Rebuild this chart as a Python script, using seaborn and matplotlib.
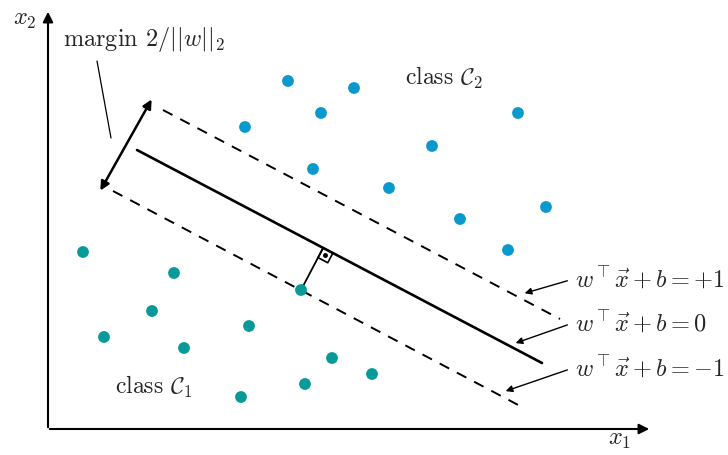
import numpy as np
import pandas as pd
import matplotlib
matplotlib.use("Agg")
import matplotlib.pyplot as plt
import seaborn as sns

# dados (coordenadas em pixels da figura, y para baixo)
c2_x = [288, 354, 321, 245, 518, 432, 313, 389, 546, 460, 508]
c2_y = [82, 89, 114, 128, 114, 147, 170, 189, 208, 220, 251]
c1_x = [83, 174, 152, 104, 249, 184, 301, 332, 305, 372, 241]
c1_y = [253, 274, 312, 338, 327, 349, 291, 359, 385, 375, 398]

# retas: hiperplano e margens
linha_0 = [(137, 151), (542, 364)]
linha_p1 = [(163, 111), (560, 320)]
linha_m1 = [(113, 192), (522, 408)]

rotulos = [r'$w^\top \vec{x} + b = +1$', r'$w^\top \vec{x} + b = 0$', r'$w^\top \vec{x} + b = -1$']
rotulo_xy = [(575, 279), (575, 323), (575, 368)]
seta_alvo = [(522, 295), (513, 345), (503, 393)]

df = pd.DataFrame({
    'x': c2_x + c1_x,
    'y': c2_y + c1_y,
    'classe': ['C2'] * len(c2_x) + ['C1'] * len(c1_x),
})

sns.set_style('white')
plt.rcParams['mathtext.fontset'] = 'cm'
plt.rcParams['font.family'] = ['cmr10', 'DejaVu Serif']
plt.rcParams['axes.unicode_minus'] = False

fig = plt.figure(figsize=(7.28, 4.56), dpi=100)
ax = fig.add_axes([0, 0, 1, 1])
ax.set_xlim(0, 728)
ax.set_ylim(456, 0)
ax.axis('off')

sns.scatterplot(data=df, x='x', y='y', hue='classe',
                palette={'C2': '#0a99cc', 'C1': '#079a98'},
                s=72, edgecolor='none', legend=False, ax=ax, zorder=3)

# eixos
ax.annotate('', xy=(48, 10), xytext=(48, 431),
            arrowprops=dict(arrowstyle='-|>', lw=1.5, color='black', mutation_scale=15))
ax.annotate('', xy=(652, 430), xytext=(47, 430),
            arrowprops=dict(arrowstyle='-|>', lw=1.5, color='black', mutation_scale=15))
ax.text(25, 20, r'$x_2$', fontsize=17.5, ha='center', va='center')
ax.text(620, 440, r'$x_1$', fontsize=17.5, ha='center', va='center')

# hiperplanos
(x0, y0), (x1, y1) = linha_0
ax.plot([x0, x1], [y0, y1], color='black', lw=1.9)
for l in (linha_p1, linha_m1):
    ax.plot([l[0][0], l[1][0]], [l[0][1], l[1][1]], color='black', lw=1.4,
            dashes=(5.5, 4.5))

# margem
ax.annotate('', xy=(153, 98), xytext=(99, 194),
            arrowprops=dict(arrowstyle='<|-|>', lw=1.8, color='black', mutation_scale=13))
ax.plot([97, 111], [62, 139], color='black', lw=0.9)
ax.text(63, 40, r'margin $2/||w||_2$', fontsize=17.5, ha='left', va='center')

# perpendicular com angulo reto
d = np.array([x1 - x0, y1 - y0], dtype=float)
d /= np.linalg.norm(d)
n = np.array([-d[1], d[0]])
p = np.array([c1_x[6], c1_y[6]], dtype=float)
f = np.array([x0, y0]) + np.dot(p - np.array([x0, y0]), d) * d
ax.plot([p[0], f[0]], [p[1], f[1]], color='black', lw=1.3)
s = 11
q = np.array([f, f + s * d, f + s * d + s * n, f + s * n, f])
ax.plot(q[:, 0], q[:, 1], color='black', lw=1.2)
c = f + s / 2 * d + s / 2 * n
ax.plot(c[0], c[1], 'o', color='black', ms=2.5)

# rotulos das retas
for txt, (tx, ty), alvo in zip(rotulos, rotulo_xy, seta_alvo):
    ax.text(tx, ty, txt, fontsize=17.5, ha='left', va='center')
    ax.annotate('', xy=alvo, xytext=(tx - 5, ty + 2),
                arrowprops=dict(arrowstyle='-|>', lw=1.0, color='black', mutation_scale=10))

ax.text(405, 78, r'class $\mathcal{C}_2$', fontsize=17, ha='left', va='center')
ax.text(115, 387, r'class $\mathcal{C}_1$', fontsize=17, ha='left', va='center')

fig.savefig('out.png', dpi=100)
